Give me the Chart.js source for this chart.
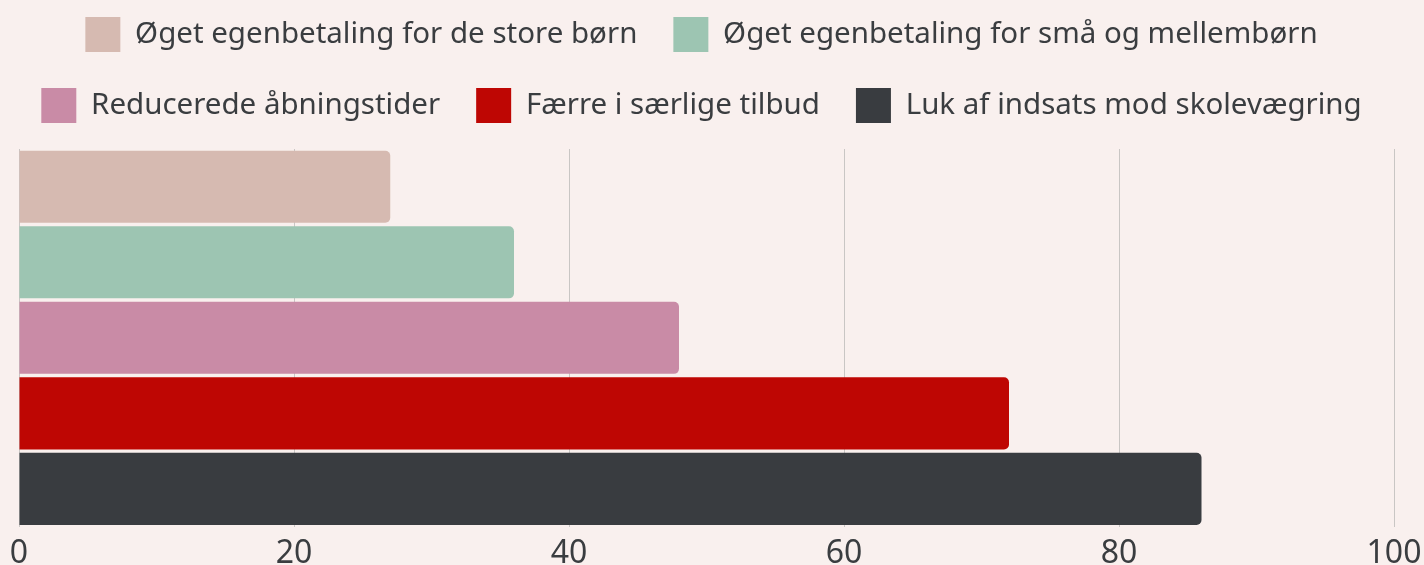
<!DOCTYPE html>
<html>
<head>
<meta charset="utf-8">
<script src="https://cdn.jsdelivr.net/npm/chart.js@4"></script>
<style>
  html, body { margin: 0; padding: 0; background: #f9f0ee; overflow: hidden; }
  .wrap { position: relative; width: 1424px; height: 600px; margin-top: -19px; }
</style>
</head>
<body>
<div class="wrap"><canvas id="tiltagDiagram"></canvas></div>
<script>
const kategorier = [""];
const serieNavne = [
  "Øget egenbetaling for de store børn",
  "Øget egenbetaling for små og mellembørn",
  "Reducerede åbningstider",
  "Færre i særlige tilbud",
  "Luk af indsats mod skolevægring",
];
const serieVaerdier = [27, 36, 48, 72, 86];
const farver = ["#d6bab1", "#9dc5b2", "#c98ba6", "#be0603", "#393c40"];
const akseTicks = [0, 20, 40, 60, 80, 100];

const tekstFarve = "#3a3d40";
const skrift = "'Noto Sans', sans-serif";

// legend: lidt højere boks og forskudt en smule mod venstre
const legendFit = {
  id: "legendFit",
  afterInit(chart) {
    const legend = chart.legend;
    const origFit = legend.fit;
    legend.fit = function () {
      origFit.call(this);
      this.height += 16;
    };
  },
  afterLayout(chart) {
    chart.legend.right -= 21;
  },
};

const ctx = document.getElementById("tiltagDiagram").getContext("2d");
const myChart = new Chart(ctx, {
  type: "bar",
  data: {
    labels: kategorier,
    datasets: serieNavne.map((navn, i) => ({
      label: navn,
      data: [serieVaerdier[i]],
      backgroundColor: farver[i],
      borderRadius: 5,
      borderSkipped: "start",
      barPercentage: 0.955,
      categoryPercentage: 1,
    })),
  },
  options: {
    indexAxis: "y",
    responsive: true,
    maintainAspectRatio: false,
    animation: false,
    layout: {
      padding: 0,
    },
    plugins: {
      legend: {
        position: "top",
        labels: {
          boxWidth: 35,
          boxHeight: 35,
          padding: 36,
          color: tekstFarve,
          font: { family: skrift, size: 29.5 },
        },
      },
      tooltip: { enabled: false },
    },
    scales: {
      x: {
        min: 0,
        max: 100,
        afterBuildTicks: (axis) => {
          axis.ticks = akseTicks.map((v) => ({ value: v }));
        },
        afterFit: (axis) => {
          axis.paddingLeft = 19;
          axis.paddingRight = 30;
        },
        grid: {
          color: "#c9c6c4",
          drawTicks: false,
        },
        border: { display: false },
        ticks: {
          color: tekstFarve,
          padding: 8,
          font: { family: skrift, size: 32 },
        },
      },
      y: {
        display: false,
      },
    },
  },
  plugins: [legendFit],
});
</script>
</body>
</html>
